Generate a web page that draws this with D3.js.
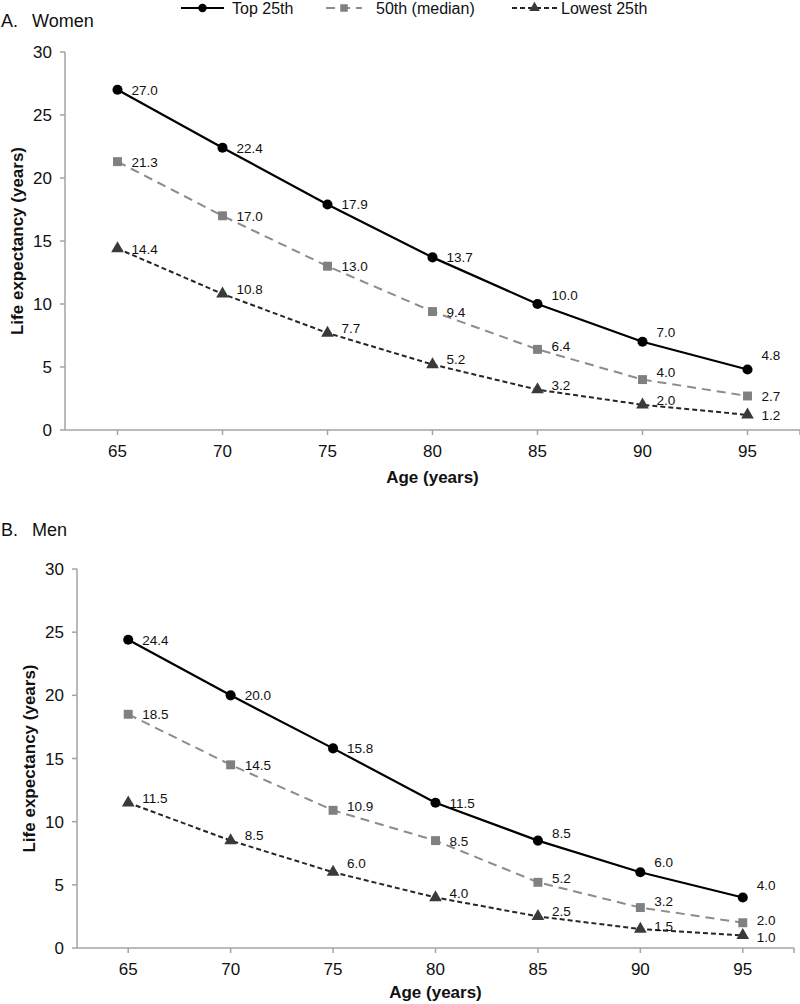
<!DOCTYPE html>
<meta charset='utf-8'>
<title>Life expectancy by age</title>
<style>
  body {
    margin: 0;
    font-family: 'Liberation Sans', Arial, sans-serif;
    background: #fff;
  }
  svg {
    display: block;
  }
  .axis-line {
    stroke: #a3a3a3;
    stroke-width: 1.5px;
    fill: none;
  }
  .tick-label {
    font-size: 17px;
    fill: #111;
  }
  .axis-title {
    font-size: 17px;
    font-weight: bold;
    fill: #111;
  }
  .val {
    font-size: 13.5px;
    fill: #111;
  }
  .panel-title {
    font-size: 18px;
    fill: #111;
  }
  .legend text {
    font-size: 16px;
    fill: #111;
  }
</style>
<body>
<script src='https://cdn.jsdelivr.net/npm/d3@7'></script>
<script>

  // ---- data ----
  var ages = [65, 70, 75, 80, 85, 90, 95]
  var yTicks = [0, 5, 10, 15, 20, 25, 30]
  var seriesNames = ['Top 25th', '50th (median)', 'Lowest 25th']

  var womenTop = [27.0, 22.4, 17.9, 13.7, 10.0, 7.0, 4.8]
  var womenMedian = [21.3, 17.0, 13.0, 9.4, 6.4, 4.0, 2.7]
  var womenLowest = [14.4, 10.8, 7.7, 5.2, 3.2, 2.0, 1.2]

  var menTop = [24.4, 20.0, 15.8, 11.5, 8.5, 6.0, 4.0]
  var menMedian = [18.5, 14.5, 10.9, 8.5, 5.2, 3.2, 2.0]
  var menLowest = [11.5, 8.5, 6.0, 4.0, 2.5, 1.5, 1.0]

  // vertical nudges of the value labels (px), as placed in the original
  var nudgeWomen = [[0, 0, 0, 0, -9, -10, -15], [0, 0, 0, 0, -3, -8, 0], [0, -5, -5, -5, -5, -5, 0]]
  var nudgeMen = [[0, 0, 0, 0, -8, -10, -12], [0, 0, -4, 0, -4, -7, -3], [-5, -6, -9, -4, -5, -3, 2]]

  var styles = [
    { stroke: '#000', width: 2.2, dash: null, fill: '#000', symbol: d3.symbolCircle, size: 80 },
    { stroke: '#8c8c8c', width: 2, dash: '9,6', fill: '#808080', symbol: d3.symbolSquare, size: 80 },
    { stroke: '#262626', width: 2, dash: '5,3', fill: '#3a3a3a', symbol: d3.symbolTriangle, size: 70 }
  ]

  var W = 800, H = 1004
  var svg = d3.select('body').append('svg')
    .attr('width', W)
    .attr('height', H)

  /* ------- LEGEND -------*/
  var legendItems = [
    { x0: 181, x1: 224, tx: 232 },
    { x0: 326, x1: 362, tx: 376 },
    { x0: 512, x1: 557, tx: 561 }
  ]
  var legend = svg.append('g').attr('class', 'legend')
  legendItems.forEach(function(li, i) {
    var st = styles[i]
    legend.append('line')
      .attr('x1', li.x0).attr('x2', li.x1)
      .attr('y1', 8).attr('y2', 8)
      .attr('stroke', st.stroke)
      .attr('stroke-width', st.width)
      .attr('stroke-dasharray', st.dash)
    legend.append('path')
      .attr('d', d3.symbol().type(st.symbol).size(st.size * 0.7)())
      .attr('transform', 'translate(' + (li.x0 + li.x1) / 2 + ',8)')
      .attr('fill', st.fill)
    legend.append('text')
      .attr('x', li.tx)
      .attr('y', 14)
      .text(seriesNames[i])
  })

  /* ------- PANELS -------*/
  function panel(opt) {
    var g = svg.append('g')

    var x = d3.scaleBand().domain(ages).range([opt.left, opt.right])
    var y = d3.scaleLinear().domain([0, 30]).range([opt.bottom, opt.top])
    var cx = function(a) { return x(a) + x.bandwidth() / 2 }

    g.append('text')
      .attr('class', 'panel-title')
      .attr('x', 1)
      .attr('y', opt.titleY)
      .text(opt.letter)
    g.append('text')
      .attr('class', 'panel-title')
      .attr('x', 32)
      .attr('y', opt.titleY)
      .text(opt.title)

    // y axis
    g.append('line').attr('class', 'axis-line')
      .attr('x1', opt.left).attr('x2', opt.left)
      .attr('y1', y(30)).attr('y2', opt.bottom)
    g.selectAll('.ytick').data(yTicks).enter()
      .append('line').attr('class', 'axis-line')
      .attr('x1', opt.left - 5).attr('x2', opt.left)
      .attr('y1', function(d) { return y(d) })
      .attr('y2', function(d) { return y(d) })
    g.selectAll('.ylab').data(yTicks).enter()
      .append('text').attr('class', 'tick-label')
      .attr('x', opt.left - 13)
      .attr('y', function(d) { return y(d) + 6 })
      .attr('text-anchor', 'end')
      .text(function(d) { return d })

    // x axis
    g.append('line').attr('class', 'axis-line')
      .attr('x1', opt.left).attr('x2', opt.right)
      .attr('y1', opt.bottom).attr('y2', opt.bottom)
    g.selectAll('.xtick').data(ages).enter()
      .append('line').attr('class', 'axis-line')
      .attr('x1', cx).attr('x2', cx)
      .attr('y1', opt.bottom).attr('y2', opt.bottom + 5)
    g.append('line').attr('class', 'axis-line')
      .attr('x1', opt.right).attr('x2', opt.right)
      .attr('y1', opt.bottom).attr('y2', opt.bottom + 5)
    g.selectAll('.xlab').data(ages).enter()
      .append('text').attr('class', 'tick-label')
      .attr('x', cx)
      .attr('y', opt.bottom + 27)
      .attr('text-anchor', 'middle')
      .text(function(d) { return d })

    g.append('text').attr('class', 'axis-title')
      .attr('x', (opt.left + opt.right) / 2)
      .attr('y', opt.bottom + opt.xTitleDy)
      .attr('text-anchor', 'middle')
      .text('Age (years)')
    g.append('text').attr('class', 'axis-title')
      .attr('transform', 'translate(' + opt.yTitleX + ',' + (opt.bottom + y(30)) / 2 + ') rotate(-90)')
      .attr('text-anchor', 'middle')
      .text('Life expectancy (years)')

    // series
    var line = d3.line()
      .x(function(d, i) { return cx(ages[i]) })
      .y(function(d) { return y(d) })

    opt.series.forEach(function(vals, s) {
      var st = styles[s]
      g.append('path')
        .attr('d', line(vals))
        .attr('fill', 'none')
        .attr('stroke', st.stroke)
        .attr('stroke-width', st.width)
        .attr('stroke-dasharray', st.dash)
        .attr('stroke-linejoin', 'round')

      g.selectAll('.m' + s).data(vals).enter()
        .append('path')
        .attr('d', d3.symbol().type(st.symbol).size(st.size)())
        .attr('transform', function(d, i) { return 'translate(' + cx(ages[i]) + ',' + y(d) + ')' })
        .attr('fill', st.fill)

      g.selectAll('.v' + s).data(vals).enter()
        .append('text').attr('class', 'val')
        .attr('x', function(d, i) { return cx(ages[i]) + 14 })
        .attr('y', function(d, i) { return y(d) + 5 + opt.nudge[s][i] })
        .text(function(d) { return d.toFixed(1) })
    })
  }

  panel({
    letter: 'A.', title: 'Women', titleY: 27,
    left: 65, right: 800, top: 52, bottom: 430,
    xTitleDy: 53, yTitleX: 23,
    series: [womenTop, womenMedian, womenLowest],
    nudge: nudgeWomen
  })

  panel({
    letter: 'B.', title: 'Men', titleY: 536,
    left: 77, right: 794, top: 569, bottom: 948,
    xTitleDy: 50, yTitleX: 35,
    series: [menTop, menMedian, menLowest],
    nudge: nudgeMen
  })

</script>
</body>
